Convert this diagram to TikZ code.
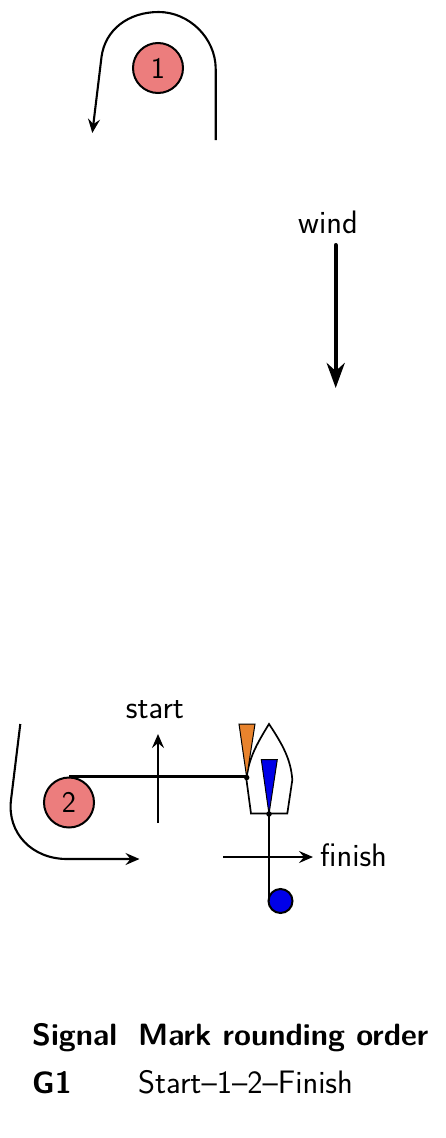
\documentclass[tikz,border=0pt]{standalone}
\usetikzlibrary{arrows.meta}
\definecolor{markred}{RGB}{236,125,125}
\definecolor{flagorange}{RGB}{232,131,45}
\definecolor{flagblue}{RGB}{0,0,232}
\tikzset{
  course/.style={line width=2.1pt,-{Stealth[length=14pt,width=12pt,inset=5pt]}},
  plainline/.style={line width=2.1pt},
  roundmark/.style={circle,draw,line width=2pt,fill=markred,minimum size=50pt,inner sep=0pt,font=\sffamily\fontsize{30}{34}\selectfont},
  lbl/.style={inner sep=0pt,anchor=base west,font=\sffamily\fontsize{32.5}{36}\selectfont},
  boldlbl/.style={inner sep=0pt,anchor=base west,font=\sffamily\bfseries\fontsize{30.8}{36}\selectfont},
  flag/.style={line width=1pt,draw=black},
  knot/.style={circle,fill=black,inner sep=0pt,minimum size=5.5pt}
}
\begin{document}
\begin{tikzpicture}[x=1pt,y=-1pt]
\useasboundingbox (0,0) rectangle (445,1138);
% mark 1
\node[roundmark] (m1) at (158,68) {1};
\coordinate (a1) at (215.7,140);
\coordinate (a2) at (92.3,133);
\draw[course] (a1) -- (215.7,69) .. controls (215.7,38) and (189,12) .. (158.7,12) .. controls (128,12) and (105,30) .. (101.5,57) -- (a2);
% wind
\node[lbl,anchor=base] (w) at (328,233) {wind};
\coordinate (w1) at (335.7,245);
\coordinate (w2) at (335.7,388);
\draw[line width=4pt,line cap=round,-{Stealth[length=25pt,width=18pt,inset=8pt]}] (w1) -- (w2);
% mark 2
\node[roundmark] (m2) at (69,802.5) {2};
\coordinate (b1) at (20.3,724);
\coordinate (b2) at (139.5,859);
\draw[course] (b1) -- (11,800) .. controls (7,833) and (32,859) .. (67,859) -- (b2);
% start line
\node[lbl,anchor=base] (st) at (155,718) {start};
\coordinate (s1) at (158,823);
\coordinate (s2) at (158,734);
\draw[course] (s1) -- (s2);
% boat
\node[knot] (pin) at (246.7,777.5) {};
\node[knot] (sb) at (269,814) {};
\draw[line width=1.7pt,line join=miter] (269,724) .. controls (283,745) and (291,760) .. (292.3,780) -- (287.3,813.5) -- (251,813.5) -- (246.5,780) .. controls (248,760) and (256,745) .. (269,724) -- cycle;
\fill[flagorange,flag] (239,724) -- (255,724) -- (pin.center) -- cycle;
\fill[flagblue,flag] (261.3,759.5) -- (277.3,759.5) -- (sb.center) -- cycle;
% start line to pin
\draw[plainline] (m2.north) -- (m2.north -| pin.center);
% finish
\node[circle,draw,line width=2pt,fill=flagblue,minimum size=24pt,inner sep=0pt] (bm) at (280.5,901) {};
\draw[plainline] (sb.center) -- (sb.center |- bm.west);
\coordinate (f1) at (223.3,857);
\coordinate (f2) at (313,857);
\draw[course] (f1) -- (f2);
\node[lbl] (fin) at (320,866) {finish};
% table
\node[boldlbl] (h1) at (32,1045) {Signal};
\node[boldlbl] (h2) at (138,1045) {Mark rounding order};
\node[boldlbl] (r1) at (32,1093) {G1};
\node[lbl] (r2) at (138,1093) {Start--1--2--Finish};
\end{tikzpicture}
\end{document}
